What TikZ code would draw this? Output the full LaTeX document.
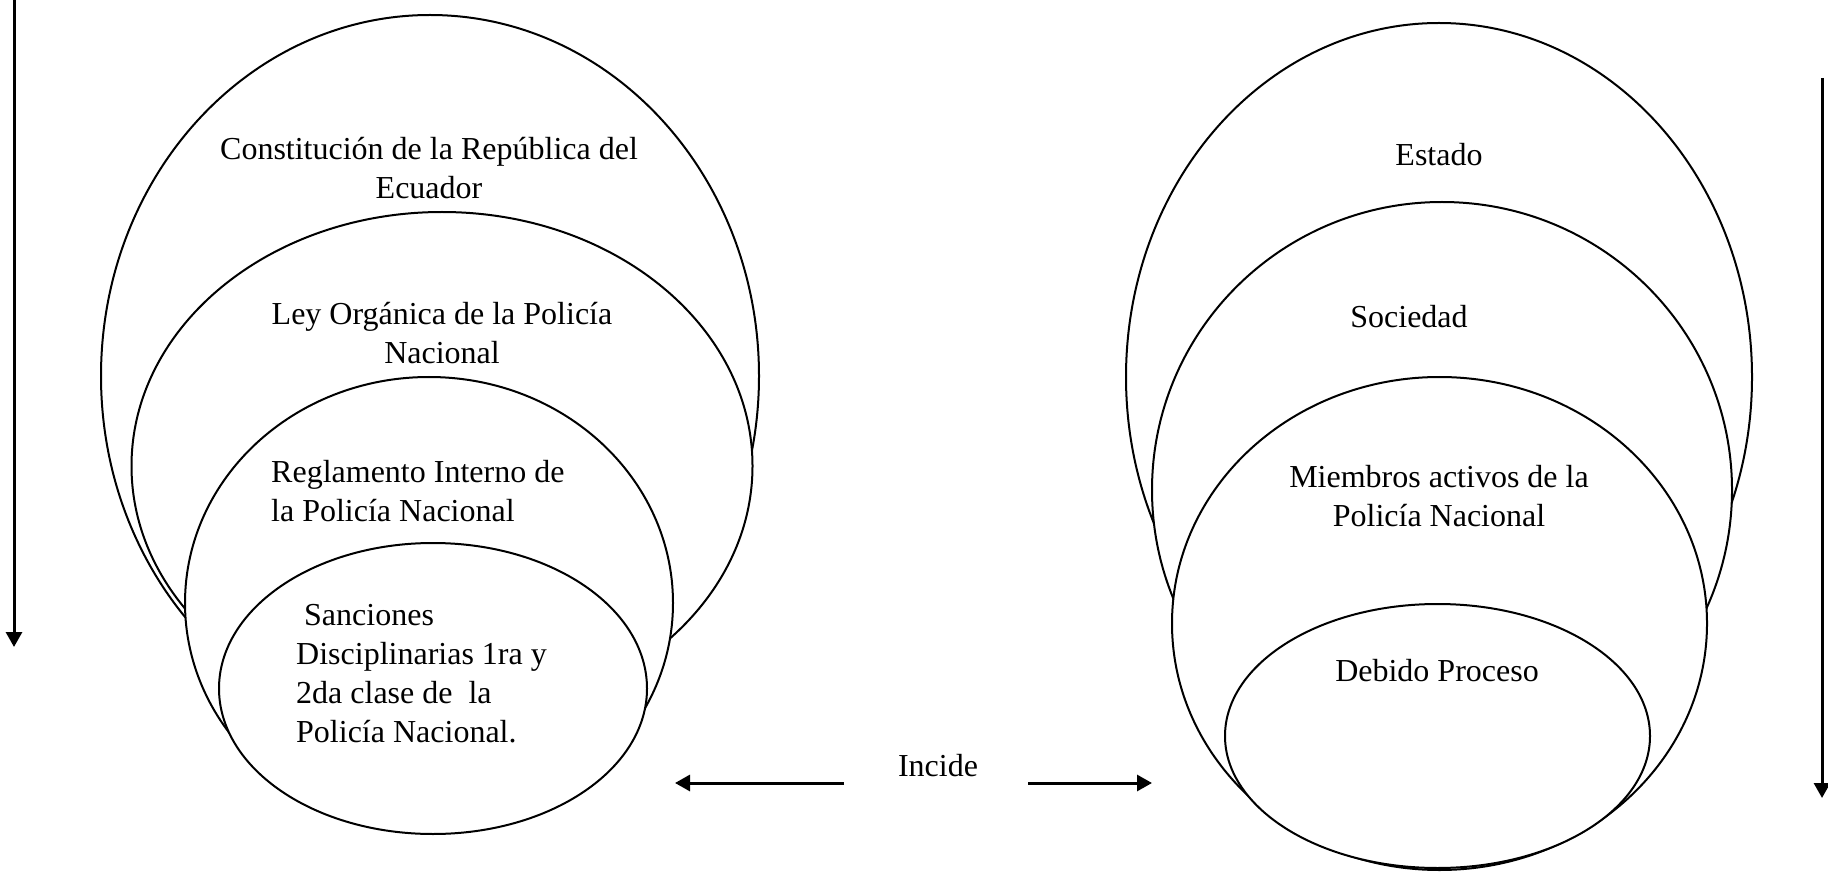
\documentclass[tikz,border=0pt]{standalone}
\usepackage{fontspec}
\setmainfont{Liberation Serif}
\usetikzlibrary{arrows.meta,shapes.geometric}
\tikzset{
  ell/.style={draw, line width=2pt, fill=white, ellipse, inner sep=0pt},
  lbl/.style={inner sep=0pt, font=\fontsize{32}{39}\selectfont},
  arr/.style={line width=3pt, -{Triangle[length=15pt,width=16pt]}}
}
\begin{document}
\begin{tikzpicture}[x=1pt,y=-1pt]
\useasboundingbox (0,0) rectangle (1828,874);
% left nest
\node[ell, minimum width=658pt, minimum height=722pt] (A) at (430,376) {};
\node[ell, minimum width=621pt, minimum height=508pt] (B) at (442,466) {};
\node[ell, minimum width=488pt, minimum height=452pt] (C) at (429,603) {};
\node[ell, minimum width=428pt, minimum height=291pt] (D) at (433,688.5) {};
% right nest
\node[ell, minimum width=626pt, minimum height=708pt] (E) at (1439,377) {};
\node[ell, minimum width=580pt, minimum height=576pt] (F) at (1442,490) {};
\node[ell, minimum width=535pt, minimum height=493pt] (G) at (1439.5,623.5) {};
\node[ell, minimum width=425pt, minimum height=264pt] (H) at (1437.5,736) {};
% labels
\node[lbl, align=center] (tA) at (429,168.5) {Constitución de la República del\\Ecuador};
\node[lbl, align=center] (tB) at (442,333.5) {Ley Orgánica de la Policía\\Nacional};
\node[lbl, align=left, anchor=west] (tC) at (271,491) {Reglamento Interno de\\la Policía Nacional};
\node[lbl, align=left, anchor=west] (tD) at (296,674) {\hspace{0.25em}Sanciones\\Disciplinarias 1ra y\\2da clase de~ la\\Policía Nacional.};
\node[lbl] (tE) at (1439,155) {Estado};
\node[lbl] (tF) at (1409,317) {Sociedad};
\node[lbl, align=center] (tG) at (1439,496) {Miembros activos de la\\Policía Nacional};
\node[lbl] (tH) at (1437,671) {Debido Proceso};
\node[lbl] (inc) at (938,766) {Incide};
% arrows
\coordinate (l1) at (14,0);
\coordinate (l2) at (14,647);
\coordinate (r1) at (1822,78);
\coordinate (r2) at (1822,798);
\coordinate (h1) at (844,783);
\coordinate (h2) at (675,783);
\coordinate (h3) at (1028,783);
\coordinate (h4) at (1152,783);
\draw[arr] (l1) -- (l2);
\draw[arr] (r1) -- (r2);
\draw[arr] (h1) -- (h2);
\draw[arr] (h3) -- (h4);
\end{tikzpicture}
\end{document}
